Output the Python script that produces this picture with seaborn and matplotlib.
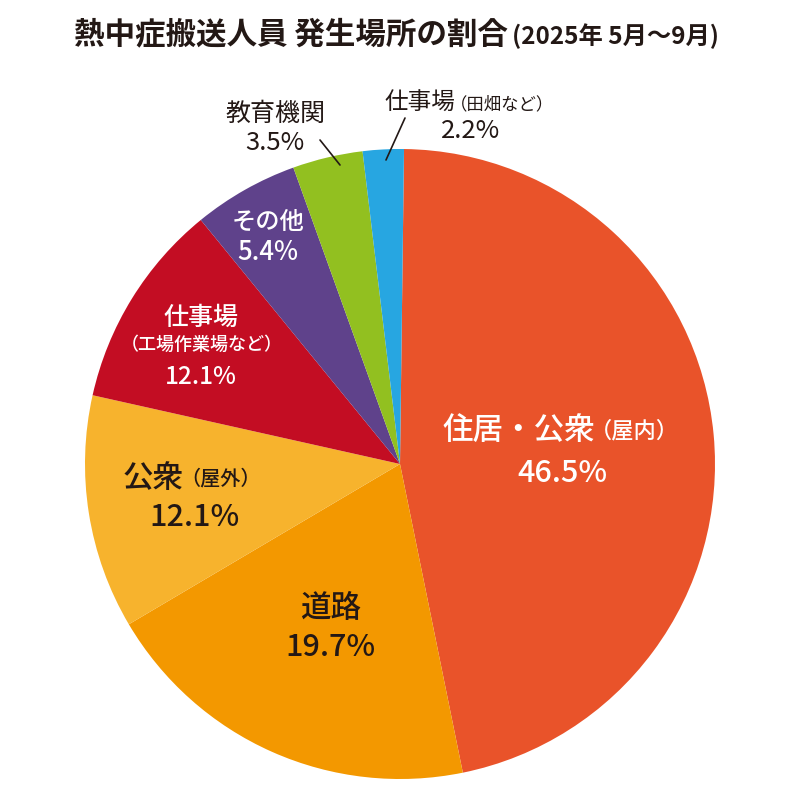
import matplotlib
matplotlib.use("Agg")
import matplotlib.pyplot as plt
import seaborn as sns

# Data (clockwise from the top)
places = ["住居・公衆（屋内）", "道路", "公衆（屋外）", "仕事場（工場作業場など）",
          "その他", "教育機関", "仕事場（田畑など）"]
# wedge shares as drawn in the picture
shares = [46.6, 19.7, 12.0, 10.6, 5.4, 3.6, 2.1]
# percentages as printed on the chart
pct_labels = ["46.5%", "19.7%", "12.1%", "12.1%", "5.4%", "3.5%", "2.2%"]
colors = ["#E9532A", "#F39800", "#F7B32D", "#C30D23", "#5F428B", "#92C020", "#27A6E1"]

sns.set_theme(style="white")
plt.rcParams["font.family"] = ["Noto Sans CJK JP", "DejaVu Sans"]

DARK = "#231815"
WHITE = "white"

fig = plt.figure(figsize=(8, 8), dpi=100)
ax = fig.add_axes([0, 0, 1, 1])

ax.pie(
    shares,
    colors=sns.color_palette(colors),
    startangle=89.27,
    counterclock=False,
    center=(400, 336),
    radius=315,
    wedgeprops={"linewidth": 0},
)
ax.set_xlim(0, 800)
ax.set_ylim(0, 800)
ax.set_aspect("equal")
ax.axis("off")


def put(x, y, s, size, color, ha="center", weight="medium"):
    # y given from the top of the image
    ax.text(x, 800 - y, s, fontsize=size, color=color, ha=ha, va="center",
            fontweight=weight)


# Title
put(508, 34, "熱中症搬送人員 発生場所の割合", 22, DARK, ha="right", weight="bold")
put(512, 36, "(2025年 5月～9月)", 17.5, DARK, ha="left", weight="bold")

# 住居・公衆（屋内）
put(595, 430, "住居・公衆", 22, WHITE, ha="right")
put(590, 431, "（屋内）", 16, WHITE, ha="left")
put(562, 473, pct_labels[0], 22, WHITE)

# 道路
put(331, 608, "道路", 22, DARK)
put(330, 648, pct_labels[1], 22, DARK)

# 公衆（屋外）
put(184, 478, "公衆", 22, DARK, ha="right")
put(180, 479, "（屋外）", 14.5, DARK, ha="left")
put(195, 518, pct_labels[2], 22, DARK)

# 仕事場（工場作業場など）
put(201, 318, "仕事場", 18, WHITE)
put(202, 345, "（工場作業場など）", 13, WHITE)
put(201, 377, pct_labels[3], 17.5, WHITE)

# その他
put(268, 222, "その他", 17.5, WHITE)
put(268, 252, pct_labels[4], 18.5, WHITE)

# 教育機関 (outside)
put(276, 114, "教育機関", 18, DARK, weight="normal")
put(275, 143, pct_labels[5], 18.5, DARK, weight="normal")
ax.plot([320, 340], [800 - 140, 800 - 165], color=DARK, lw=1.2)

# 仕事場（田畑など） (outside)
put(455, 103, "仕事場", 17, DARK, ha="right", weight="normal")
put(450, 104, "（田畑など）", 12.5, DARK, ha="left", weight="normal")
put(471, 131, pct_labels[6], 18.5, DARK, weight="normal")
ax.plot([405, 386], [800 - 118, 800 - 160], color=DARK, lw=1.2)

fig.savefig("out.png", dpi=100, facecolor="white")
